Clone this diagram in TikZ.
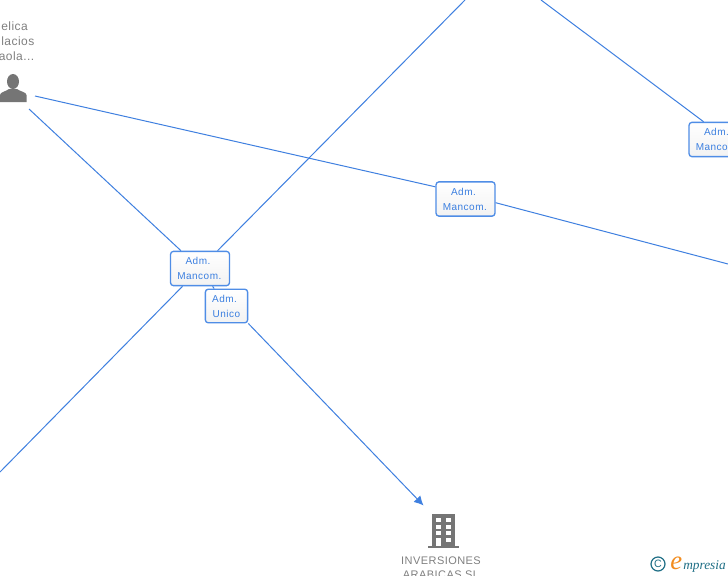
\documentclass[tikz,border=0pt]{standalone}
\usepackage{fontspec}
\usetikzlibrary{arrows.meta}
\setmainfont{Liberation Sans}
\newfontfamily\boxfont[LetterSpace=5]{Liberation Sans}
\newfontfamily\capfont[LetterSpace=4]{Liberation Sans}
\newfontfamily\logofont{Liberation Serif}
\definecolor{linkblue}{HTML}{3F80E0}
\definecolor{boxblue}{HTML}{4F8DE6}
\definecolor{txtblue}{HTML}{3B7FE0}
\definecolor{txtgray}{HTML}{808080}
\definecolor{icongray}{HTML}{757575}
\definecolor{logoteal}{HTML}{1F6F86}
\definecolor{logoorange}{HTML}{F28C1E}
\newcommand{\admline}{Adm.\hspace*{3pt}}
\newcommand{\manline}{Mancom.\hspace*{1pt}}
\tikzset{
  roleBox/.style={draw=boxblue,line width=1pt,rounded corners=2.2pt,top color=white,bottom color=black!5,
    text=txtblue,inner sep=0pt,align=center,font=\boxfont\fontsize{7.5pt}{11.25pt}\selectfont},
  link/.style={draw=linkblue,line width=0.75pt},
  caption/.style={text=txtgray,inner sep=0pt,font=\capfont\fontsize{8.25pt}{11pt}\selectfont},
  nameText/.style={text=txtgray,inner sep=0pt,anchor=west,font=\capfont\fontsize{9pt}{11pt}\selectfont},
  icon/.style={fill=icongray,draw=none},
  hole/.style={fill=white,draw=none}
}
\begin{document}
\begin{tikzpicture}[x=0.75pt,y=-0.75pt]
\useasboundingbox (0,0) rectangle (728,575);
\clip (0,0) rectangle (728,575);
\fill[white] (0,0) rectangle (728,575);
% boxes
\node[roleBox,minimum width=44.2pt,minimum height=25.7pt] (boxA) at (200,268.5) {\admline\\\manline};
\node[roleBox,minimum width=31.7pt,minimum height=25.2pt] (boxU) at (226.5,306) {\admline\\Unico};
\node[roleBox,minimum width=44.2pt,minimum height=25.7pt] (boxC) at (465.5,199) {\admline\\\manline};
\node[roleBox,minimum width=44.2pt,minimum height=25.7pt] (boxD) at (718.5,139.5) {\admline\\\manline};
% free ends
\coordinate (pa) at (35,96);
\coordinate (pb) at (29,109);
\coordinate (e1) at (728,264);
\coordinate (e2) at (0,472);
\coordinate (e3) at (465,0);
\coordinate (e4) at (541,0);
\coordinate (tip) at (423.5,505.5);
% connectors
\draw[link] (pa) -- (boxC.158);
\draw[link] (boxC.-7) -- (e1);
\draw[link] (pb) -- (boxA);
\draw[link] (boxA) -- (e2);
\draw[link] (boxA) -- (e3);
\draw[link] (e4) -- (boxD.130);
\draw[link] (boxA) -- (boxU);
\draw[link,-{Latex[length=7pt,width=7pt]}] (boxU.south east) -- (tip);
% person
\node[nameText] (n1) at (1,26) {elica};
\node[nameText] (n2) at (1,41) {lacios};
\node[nameText] (n3) at (-1.5,56) {aola...};
\fill[icon] (13,81.5) ellipse (6 and 7.5);
\fill[icon] (0,102) -- (0,95) .. controls (0,92) and (6,91.5) .. (9,89) -- (17,89) .. controls (20,91.5) and (26.5,92) .. (26.5,95) -- (26.5,102) -- cycle;
% building
\fill[icon] (432,514) rectangle (455,546);
\fill[icon] (428,545.5) rectangle (459,548);
\foreach \yy in {518,524.5,531}{
  \fill[hole] (436,\yy) rectangle (441,\yy+4);
  \fill[hole] (446,\yy) rectangle (451,\yy+4);
}
\fill[hole] (436,538) rectangle (441,546);
\fill[hole] (446,538) rectangle (451,542);
\node[caption] (c1) at (441,560.5) {INVERSIONES};
\node[caption] (c2) at (441,574.5) {ARABICAS SL};
% logo
\node[circle,draw=logoteal,line width=0.9pt,minimum size=10.5pt,inner sep=0pt,text=logoteal,font=\fontsize{8pt}{8pt}\selectfont] (copy) at (658,564) {C};
\node[inner sep=0pt,anchor=base west,text=logoorange,font=\logofont\itshape\fontsize{20pt}{20pt}\selectfont] (loge) at (670,569) {e};
\node[inner sep=0pt,anchor=base west,text=logoteal,font=\logofont\itshape\fontsize{10pt}{10pt}\selectfont] (logr) at (683,569) {mpresia};
\end{tikzpicture}
\end{document}
